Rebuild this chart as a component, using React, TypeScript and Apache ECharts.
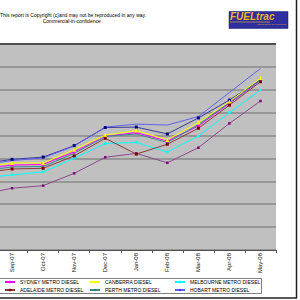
import React, { useEffect, useRef } from "react";
import * as echarts from "echarts";

const categories = ["Aug-07", "Sep-07", "Oct-07", "Nov-07", "Dec-07", "Jan-08", "Feb-08", "Mar-08", "Apr-08", "May-08"];

const darwin = [127.6, 129.6, 130.6, 135.6, 143.5, 143.7, 140.7, 147.7, 155.5, 164.3];
const sydney = [125.4, 127.1, 127.4, 132.9, 139.6, 141.3, 137.6, 144.2, 154.1, 164.1];
const canberra = [126.3, 128.0, 128.0, 133.8, 140.2, 142.2, 138.1, 145.7, 154.8, 165.1];
const melbourne = [121.5, 122.8, 124.1, 130.1, 136.5, 137.0, 132.8, 139.8, 150.0, 159.9];
const brisbane = [114.2, 117.0, 118.1, 123.5, 130.5, 132.2, 128.1, 134.7, 145.3, 155.1];
const adelaide = [123.6, 125.4, 125.7, 131.1, 138.8, 131.9, 136.2, 143.2, 153.3, 163.5];
const perth = [124.5, 126.3, 126.5, 132.2, 139.6, 140.7, 137.0, 144.8, 154.4, 164.3];
const hobart = [127.1, 129.1, 130.2, 135.4, 143.7, 145.0, 144.6, 148.3, 158.8, 169.3];

const yMin = 90;
const yMax = 180;
const yInterval = 10;

const FONT = "Liberation Sans, Arial, sans-serif";
const OFF = 35; // chart canvas extends this far to the left of the window

export default function App() {
  const ref = useRef<HTMLDivElement>(null);
  useEffect(() => {
    if (!ref.current) return;
    const chart = echarts.init(ref.current, undefined, { renderer: "svg" });
    const mk = (name: string, data: number[], color: string, symbol: string, size: number, lineColor?: string) => ({
      name,
      type: "line",
      data,
      symbol,
      symbolSize: size,
      itemStyle: { color },
      lineStyle: { color: lineColor || color, width: 1 },
      emphasis: { disabled: true },
    });
    const legendBase = {
      orient: "vertical",
      top: 279.5,
      itemWidth: 10,
      itemHeight: 3,
      itemGap: 3,
      padding: 0,
      textStyle: { fontSize: 5, color: "#000", fontFamily: FONT, lineHeight: 5 },
      selectedMode: false,
    };
    const splitColors = Array.from({ length: 10 }, (_, i) => (i === 9 ? "#505050" : "#8a8a8a"));
    chart.setOption({
      animation: false,
      backgroundColor: "#ffffff",
      textStyle: { fontFamily: FONT },
      grid: {
        left: OFF - 34.5,
        right: 24,
        top: 44,
        bottom: 50,
        show: true,
        backgroundColor: "#C0C0C0",
        borderWidth: 0,
        containLabel: false,
      },
      legend: [
        { ...legendBase, left: OFF + 4, data: ["SYDNEY METRO DIESEL", "ADELAIDE METRO DIESEL"] },
        { ...legendBase, left: OFF + 89, data: ["CANBERRA DIESEL", "PERTH METRO DIESEL"] },
        { ...legendBase, left: OFF + 174, data: ["MELBOURNE METRO DIESEL", "HOBART METRO DIESEL"] },
      ],
      xAxis: {
        type: "category",
        data: categories,
        boundaryGap: true,
        axisLine: { lineStyle: { color: "#505050", width: 1 } },
        axisTick: { show: true, length: 3, lineStyle: { color: "#505050" } },
        axisLabel: {
          rotate: 90,
          fontSize: 6,
          color: "#111",
          margin: 3,
          fontFamily: FONT,
          interval: (i: number) => i > 0,
        },
        splitLine: { show: false },
      },
      yAxis: {
        type: "value",
        min: yMin,
        max: yMax,
        interval: yInterval,
        axisLabel: { show: false },
        axisLine: { show: false },
        axisTick: { show: false },
        splitLine: { show: true, lineStyle: { color: splitColors, width: 1.6 } },
      },
      series: [
        mk("DARWIN METRO DIESEL", darwin, "#000080", "rect", 3, "#3a3a98"),
        mk("SYDNEY METRO DIESEL", sydney, "#FF00FF", "rect", 3),
        mk("CANBERRA DIESEL", canberra, "#FFFF00", "triangle", 4),
        mk("MELBOURNE METRO DIESEL", melbourne, "#00FFFF", "rect", 2.5),
        mk("BRISBANE METRO DIESEL", brisbane, "#800080", "rect", 2.5, "#8a4a8a"),
        mk("ADELAIDE METRO DIESEL", adelaide, "#800000", "rect", 3, "#8a3a3a"),
        mk("PERTH METRO DIESEL", perth, "#008080", "none", 2, "#3a8a8a"),
        mk("HOBART METRO DIESEL", hobart, "#3a3af0", "none", 2, "#6060ee"),
      ],
      graphic: [
        {
          type: "text",
          x: OFF + 0,
          y: 12.5,
          style: { text: "This report is Copyright (c)and may not be reproduced in any way.", fill: "#000", font: "5px Liberation Sans" },
        },
        {
          type: "text",
          x: OFF + 71.7,
          y: 18.5,
          style: { text: "Commercial-in-confidence", fill: "#000", align: "center", font: "5px Liberation Sans" },
        },
        {
          type: "rect",
          shape: { x: OFF + 229, y: 11.5, width: 59, height: 17 },
          style: { fill: "#2e2e9c", stroke: "#1a1a70", lineWidth: 0.5 },
        },
        {
          type: "text",
          x: OFF + 230,
          y: 11.5,
          style: { text: "FUELtrac", fill: "#f2b631", stroke: "#1a1a70", lineWidth: 0.3, font: "italic bold 10px Liberation Sans" },
        },
        {
          type: "line",
          shape: { x1: OFF + 230, y1: 22, x2: OFF + 270, y2: 22 },
          style: { stroke: "#f2b631", lineWidth: 0.6 },
        },
        {
          type: "text",
          x: OFF + 286,
          y: 23,
          style: { text: "independent fuel solutions", fill: "#e89a30", align: "right", font: "2.5px Liberation Sans" },
        },
        {
          type: "line",
          shape: { x1: 0, y1: 44, x2: OFF + 276, y2: 44 },
          style: { stroke: "#505050", lineWidth: 2 },
        },
        {
          type: "rect",
          shape: { x: OFF - 1, y: 278.5, width: 262.5, height: 15 },
          style: { fill: "none", stroke: "#808080", lineWidth: 1 },
        },
        {
          type: "line",
          shape: { x1: OFF + 296.5, y1: 0, x2: OFF + 296.5, y2: 298 },
          style: { stroke: "#202020", lineWidth: 1.5 },
        },
        {
          type: "line",
          shape: { x1: OFF, y1: 298, x2: OFF + 297, y2: 298 },
          style: { stroke: "#202020", lineWidth: 1.5 },
        },
      ],
    });
    return () => chart.dispose();
  }, []);
  return (
    <div
      ref={ref}
      style={{ position: "fixed", left: -OFF, top: 0, width: 300 + OFF, height: 300, background: "#fff" }}
    />
  );
}
